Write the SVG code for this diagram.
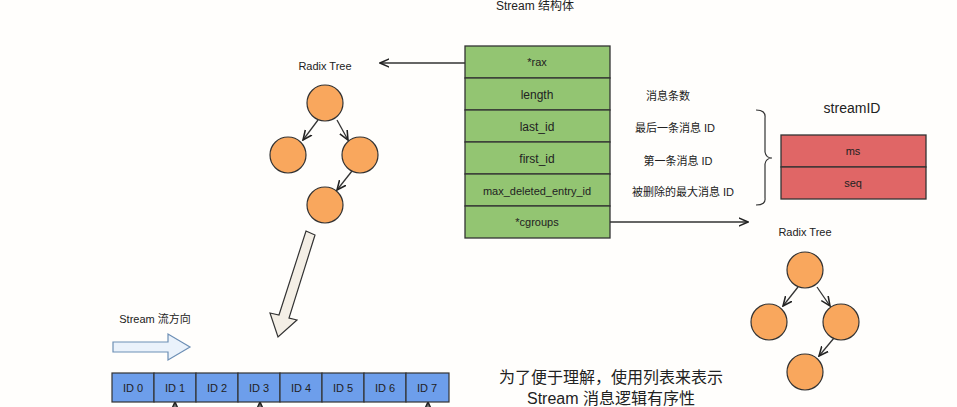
<svg xmlns="http://www.w3.org/2000/svg" width="957" height="407" viewBox="0 0 957 407">
<defs>
<marker id="ah" viewBox="0 0 10 10" refX="9" refY="5" markerWidth="8" markerHeight="8" orient="auto-start-reverse"><path d="M0,1 L9,5 L0,9" fill="none" stroke="#222" stroke-width="1.5"/></marker>
</defs>
<style>
text{font-family:"Liberation Sans","Noto Sans CJK SC",sans-serif;fill:#222;text-anchor:middle}
.g{fill:#93c572;stroke:#333;stroke-width:1.3}
.r{fill:#e06666;stroke:#333;stroke-width:1.3}
.b{fill:#6d9eeb;stroke:#333;stroke-width:1.2}
.c{fill:#f9a75d;stroke:#333;stroke-width:1.2}
.e{stroke:#333;stroke-width:1.3;fill:none;marker-end:url(#ah)}
.t{font-size:12px}
.s{font-size:11px}
</style>
<rect width="957" height="407" fill="#fffefc"/>
<text x="535" y="10" class="t">Stream 结构体</text>
<g id="struct">
<rect class="g" x="465" y="46" width="145" height="32"/><text x="537" y="66" class="s">*rax</text>
<rect class="g" x="465" y="78" width="145" height="32"/><text x="537" y="99" class="t">length</text>
<rect class="g" x="465" y="110" width="145" height="32"/><text x="537" y="131" class="t">last_id</text>
<rect class="g" x="465" y="142" width="145" height="32"/><text x="537" y="163" class="t">first_id</text>
<rect class="g" x="465" y="174" width="145" height="32"/><text x="537" y="195" class="s">max_deleted_entry_id</text>
<rect class="g" x="465" y="206" width="145" height="32"/><text x="537" y="226" class="s">*cgroups</text>
</g>
<g id="notes">
<text x="668" y="100" class="s">消息条数</text>
<text x="675" y="132" class="s">最后一条消息 ID</text>
<text x="678" y="165" class="s">第一条消息 ID</text>
<text x="683" y="196" class="s">被删除的最大消息 ID</text>
</g>
<path d="M756,110 Q766,110 765,118 L765,152 Q766,158 772,158 Q766,158 765,164 L765,198 Q766,205 756,205" fill="none" stroke="#333" stroke-width="1.2"/>
<g id="streamID">
<text x="852" y="113" font-size="14">streamID</text>
<rect class="r" x="781" y="135" width="145" height="32"/><text x="853" y="155" class="s">ms</text>
<rect class="r" x="781" y="167" width="145" height="32"/><text x="853" y="187" class="s">seq</text>
</g>
<g id="tree1">
<text x="325" y="70" class="s">Radix Tree</text>
<circle class="c" cx="325" cy="103" r="18"/><circle class="c" cx="288" cy="155" r="18"/><circle class="c" cx="360" cy="155" r="18"/><circle class="c" cx="325" cy="205" r="18"/>
</g>
<g id="tree2">
<text x="805" y="236" class="s">Radix Tree</text>
<circle class="c" cx="805" cy="270" r="18"/><circle class="c" cx="769" cy="322" r="18"/><circle class="c" cx="841" cy="322" r="18"/><circle class="c" cx="805" cy="372" r="18"/>
</g>
<g id="connectors">
<path class="e" d="M465,63 L380,63"/>
<path class="e" d="M610,222 L748,222"/>
<path class="e" d="M318,120 L303,140"/><path class="e" d="M337,120 L348,140"/><path class="e" d="M352,171 L337,190"/>
<path class="e" d="M798,287 L783,306"/><path class="e" d="M817,287 L830,306"/><path class="e" d="M834,338 L819,356"/>
<path d="M306,231 L315,235 L289,318 L297,320 L278,337 L270,313 L279,315 Z" fill="#f4efe6" stroke="#333" stroke-width="1.2"/>
<path d="M113,342 L168,342 L168,334 L190,347 L168,360 L168,352 L113,352 Z" fill="#eaf2fb" stroke="#6d8fb5" stroke-width="1.2"/>
<path class="e" d="M175,407 L175,402"/><path class="e" d="M260,407 L260,402"/><path class="e" d="M428,407 L428,402"/>
</g>
<text x="155" y="323" class="s">Stream 流方向</text>
<g id="ids">
<rect class="b" x="112" y="373" width="42" height="29"/><text x="133" y="392" class="s">ID 0</text>
<rect class="b" x="154" y="373" width="42" height="29"/><text x="175" y="392" class="s">ID 1</text>
<rect class="b" x="196" y="373" width="42" height="29"/><text x="217" y="392" class="s">ID 2</text>
<rect class="b" x="238" y="373" width="42" height="29"/><text x="259" y="392" class="s">ID 3</text>
<rect class="b" x="280" y="373" width="42" height="29"/><text x="301" y="392" class="s">ID 4</text>
<rect class="b" x="322" y="373" width="42" height="29"/><text x="343" y="392" class="s">ID 5</text>
<rect class="b" x="364" y="373" width="42" height="29"/><text x="385" y="392" class="s">ID 6</text>
<rect class="b" x="406" y="373" width="43" height="29"/><text x="427" y="392" class="s">ID 7</text>
</g>
<text x="611" y="383" font-size="16">为了便于理解，使用列表来表示</text>
<text x="611" y="404" font-size="16">Stream 消息逻辑有序性</text>
</svg>
